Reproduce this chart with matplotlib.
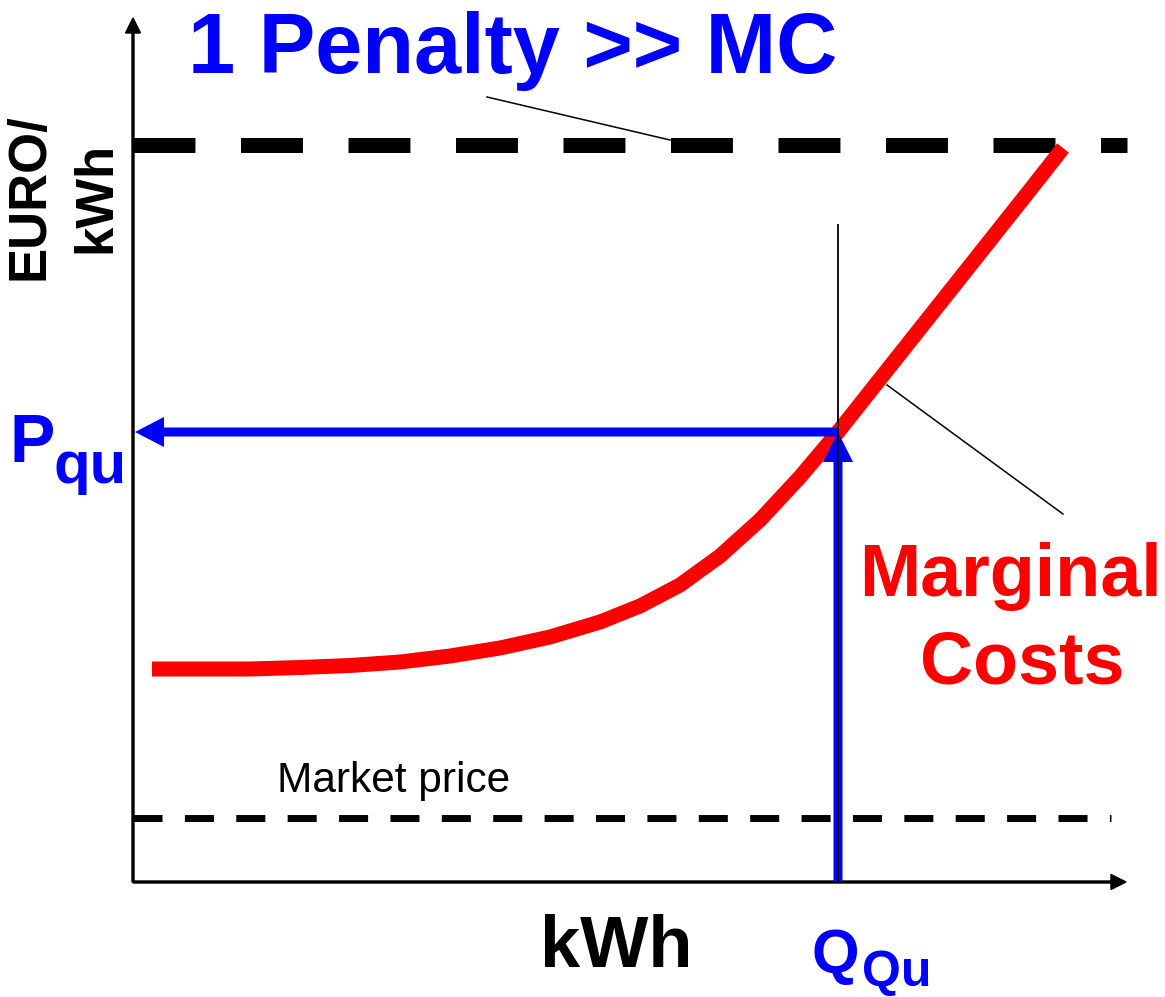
#!/usr/bin/env python3
"""
Penalty vs. marginal cost sketch: the marginal cost curve, a penalty level far
above it, the market price below, and the quantity Q_Qu / price P_qu where the
firm stops abating.
"""

import matplotlib
matplotlib.use("Agg")
import matplotlib.pyplot as plt

plt.rcParams["font.family"] = ["Liberation Sans", "DejaVu Sans"]
plt.rcParams["lines.scale_dashes"] = False

BLUE = "#0000ff"
RED = "#ff0000"

# marginal cost curve (kWh, EURO/kWh), arbitrary schematic units
mc_kwh = [19, 67, 117, 167, 217, 267, 317, 367, 417, 467, 507, 547, 587,
          627, 667, 705, 747, 797, 847, 897, 930]
mc_cost = [213, 213, 213, 214.5, 216.5, 220, 226, 234, 245, 260, 276, 297,
           326, 362, 405, 450, 503, 566, 629, 692, 734]

penalty = 737
market_price = 64
q_qu = 705
p_qu = 450

x_end = 993     # tip of the kWh axis
y_end = 864     # tip of the price axis


def main():
    fig = plt.figure(figsize=(11.65, 9.97), dpi=100)
    ax = fig.add_axes([0, 0, 1, 1])
    ax.set_xlim(-133, 1165 - 133)
    ax.set_ylim(882 - 997, 882)
    ax.axis("off")

    # axes with arrow heads
    ax.arrow(0, 0, x_end, 0, width=2, head_width=15, head_length=15,
             length_includes_head=True, color="black", zorder=2)
    ax.arrow(0, 0, 0, y_end, width=2, head_width=15, head_length=15,
             length_includes_head=True, color="black", zorder=2)

    # penalty level
    ax.plot([0, 994], [penalty, penalty], color="black", lw=10.8,
            dashes=(44.6, 32.8), solid_capstyle="butt",
            dash_capstyle="butt", zorder=3)
    ax.plot([354, 537], [785, 742], color="black", lw=1.1, zorder=3)

    # market price
    ax.plot([0, 978], [market_price, market_price], color="black", lw=5,
            dashes=(20.9, 16.1), dash_capstyle="butt", zorder=3)
    ax.text(144, market_price + 26, "Market price", fontsize=30.5,
            ha="left", va="baseline", color="black")

    # marginal cost curve
    ax.plot(mc_kwh, mc_cost, color=RED, lw=10.8, solid_capstyle="butt",
            solid_joinstyle="round", zorder=4)
    ax.plot([754, 930], [497, 368], color="black", lw=1.1, zorder=5)

    # Q_Qu -> P_qu
    ax.arrow(q_qu, 0, 0, p_qu, width=9, head_width=30, head_length=30,
             length_includes_head=True, color=BLUE, lw=0, zorder=5)
    ax.arrow(q_qu, p_qu, -q_qu + 2, 0, width=9, head_width=30,
             head_length=29, length_includes_head=True, color=BLUE, lw=0,
             zorder=5)
    ax.plot([q_qu, q_qu], [0, 657], color="black", lw=1.3, zorder=6)

    # labels
    ax.text(55, 809, "1 Penalty >> MC", fontsize=61, fontweight="bold",
            color=BLUE, ha="left", va="baseline")
    ax.text(-103, 685, "EURO/", fontsize=38, fontweight="bold",
            rotation=90, ha="center", va="center")
    ax.text(-37, 685, "kWh", fontsize=38, fontweight="bold",
            rotation=90, ha="center", va="center")
    ax.text(-123, 420, "P", fontsize=49, fontweight="bold", color=BLUE,
            ha="left", va="baseline")
    ax.text(-80, 399, "qu", fontsize=43, fontweight="bold", color=BLUE,
            ha="left", va="baseline")
    ax.text(678, -90, "Q", fontsize=44, fontweight="bold", color=BLUE,
            ha="left", va="baseline")
    ax.text(729, -104, "Qu", fontsize=36, fontweight="bold", color=BLUE,
            ha="left", va="baseline")
    ax.text(483, -85, "kWh", fontsize=52, fontweight="bold",
            ha="center", va="baseline")
    ax.text(878, 286, "Marginal", fontsize=53, fontweight="bold", color=RED,
            ha="center", va="baseline")
    ax.text(889, 199, "Costs", fontsize=53, fontweight="bold", color=RED,
            ha="center", va="baseline")

    fig.savefig("out.png", dpi=100)


if __name__ == "__main__":
    main()
